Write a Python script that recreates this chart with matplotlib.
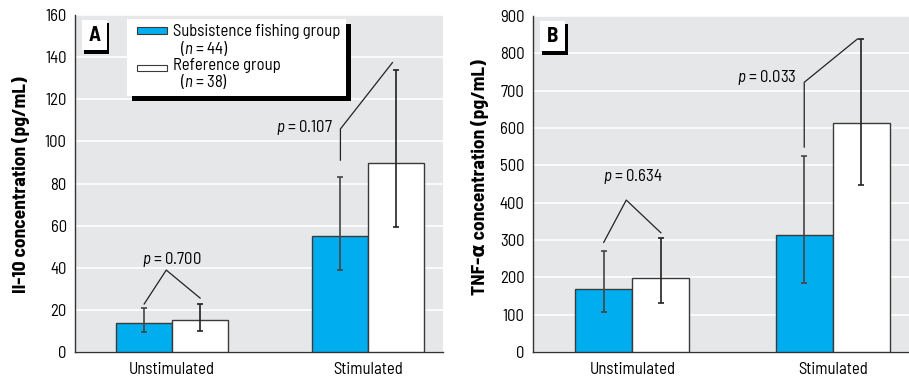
import matplotlib.pyplot as plt
from matplotlib.patches import Rectangle

plt.rcParams['font.family'] = ['Barlow Semi Condensed', 'Archivo Narrow', 'DejaVu Sans']
plt.rcParams['mathtext.fontset'] = 'custom'
plt.rcParams['mathtext.rm'] = 'Barlow Semi Condensed'
plt.rcParams['mathtext.it'] = 'Barlow Semi Condensed:italic'

conditions = ["Unstimulated", "Stimulated"]

# Il-10 (pg/mL): bar value, lower and upper end of the error bar
il10_fishing = [13.6, 55.1]
il10_fishing_lo = [9.3, 38.9]
il10_fishing_hi = [20.7, 83.1]
il10_reference = [15.2, 89.6]
il10_reference_lo = [10.0, 59.4]
il10_reference_hi = [22.6, 133.8]
il10_pvalues = ["0.700", "0.107"]

# TNF-alpha (pg/mL)
tnf_fishing = [168.8, 313.4]
tnf_fishing_lo = [106.3, 185.7]
tnf_fishing_hi = [269.7, 525.0]
tnf_reference = [199.0, 612.6]
tnf_reference_lo = [130.4, 447.4]
tnf_reference_hi = [305.4, 838.4]
tnf_pvalues = ["0.634", "0.033"]

BLUE = "#00aeef"
BG = "#e6e7e8"
EDGE = "#3a3a3a"
W = 0.285
FS = 12


def draw_panel(ax, letter, fish, fish_lo, fish_hi, ref, ref_lo, ref_hi,
               pvals, ymax, ystep, ylabel, brk):
    ax.set_facecolor(BG)
    x = range(len(conditions))
    xf = [i - W / 2 for i in x]
    xr = [i + W / 2 for i in x]
    ax.bar(xf, fish, W, color=BLUE, edgecolor=EDGE, linewidth=1, zorder=3)
    ax.bar(xr, ref, W, color="white", edgecolor=EDGE, linewidth=1, zorder=3)
    ax.errorbar(xf, fish, yerr=[[f - l for f, l in zip(fish, fish_lo)],
                                [h - f for f, h in zip(fish, fish_hi)]],
                fmt="none", ecolor="#444444", elinewidth=1.2, capsize=2.5,
                capthick=1.2, zorder=4)
    ax.errorbar(xr, ref, yerr=[[r - l for r, l in zip(ref, ref_lo)],
                               [h - r for r, h in zip(ref, ref_hi)]],
                fmt="none", ecolor="#222222", elinewidth=1.2, capsize=2.5,
                capthick=1.2, zorder=4)

    ax.set_ylim(0, ymax)
    ax.set_yticks(range(0, ymax + 1, ystep))
    ax.set_xticks(list(x))
    ax.set_xticklabels(conditions, fontsize=FS)
    ax.tick_params(length=0, labelsize=FS)
    ax.tick_params(axis="y", pad=6)
    ax.tick_params(axis="x", pad=7)
    ax.grid(axis="y", color="white", linewidth=1.2, zorder=0)
    ax.set_axisbelow(True)
    for s in ["top", "right"]:
        ax.spines[s].set_visible(False)
    for s in ["left", "bottom"]:
        ax.spines[s].set_color("#333333")
        ax.spines[s].set_linewidth(1)
    ax.set_ylabel(ylabel, fontsize=14, fontweight="bold")

    # p-value brackets
    (l_off, r_off, apex, ty), (v_off, vtop, d_off, ty2) = brk
    ax.plot([xf[0], -0.03, xr[0]],
            [fish_hi[0] + l_off, apex, ref_hi[0] + r_off],
            color="#222222", linewidth=0.9, zorder=5)
    ax.text(0, ty, "$\\mathit{p}$ = " + pvals[0], ha="center", va="center",
            fontsize=FS, zorder=6)
    ax.plot([xf[1], xf[1], xr[1] - 0.02],
            [fish_hi[1] + v_off, vtop, ref_hi[1] + d_off],
            color="#222222", linewidth=0.9, zorder=5)
    ax.text(xf[1] - 0.04, ty2, "$\\mathit{p}$ = " + pvals[1], ha="right",
            va="center", fontsize=FS, zorder=6)

    # panel letter box
    ax.add_patch(Rectangle((0.024, 0.885), 0.068, 0.09,
                           transform=ax.transAxes, facecolor="black",
                           zorder=6, clip_on=False))
    ax.add_patch(Rectangle((0.018, 0.895), 0.068, 0.09,
                           transform=ax.transAxes, facecolor="white",
                           zorder=7, clip_on=False))
    ax.text(0.052, 0.94, letter, transform=ax.transAxes, ha="center",
            va="center", fontsize=15, fontweight="bold", zorder=8)


fig = plt.figure(figsize=(9.09, 3.79), dpi=100)
axA = fig.add_axes([0.0825, 0.0712, 0.4048, 0.8892])
axB = fig.add_axes([0.5864, 0.0712, 0.4136, 0.8865])
for ax in (axA, axB):
    ax.set_xlim(-0.495, 1.38)

draw_panel(axA, "A", il10_fishing, il10_fishing_lo, il10_fishing_hi,
           il10_reference, il10_reference_lo, il10_reference_hi,
           il10_pvalues, 160, 20, "Il-10 concentration (pg/mL)",
           ((2.1, 3.0, 38.9, 43.7), (8.0, 105.9, 3.6, 106.5)))
draw_panel(axB, "B", tnf_fishing, tnf_fishing_lo, tnf_fishing_hi,
           tnf_reference, tnf_reference_lo, tnf_reference_hi,
           tnf_pvalues, 900, 100, "TNF-\u03b1 concentration (pg/mL)",
           ((24.0, 14.0, 407.0, 470.0), (24.0, 722.5, 0.0, 735.0)))
axA.yaxis.set_label_coords(-0.122, 0.495)
axB.yaxis.set_label_coords(-0.117, 0.52)

# legend box with black drop shadow
axA.add_patch(Rectangle((0.155, 0.745), 0.595, 0.228,
                        transform=axA.transAxes, facecolor="black",
                        zorder=6))
axA.add_patch(Rectangle((0.141, 0.760), 0.595, 0.228,
                        transform=axA.transAxes, facecolor="white",
                        zorder=7))
axA.add_patch(Rectangle((0.168, 0.944), 0.082, 0.019,
                        transform=axA.transAxes, facecolor=BLUE,
                        edgecolor=EDGE, linewidth=0.8, zorder=8))
axA.add_patch(Rectangle((0.168, 0.834), 0.082, 0.019,
                        transform=axA.transAxes, facecolor="white",
                        edgecolor=EDGE, linewidth=0.8, zorder=8))
legend_lines = [(0.266, 0.950, "Subsistence fishing group"),
                (0.285, 0.900, "($\\mathit{n}$ = 44)"),
                (0.266, 0.850, "Reference group"),
                (0.285, 0.802, "($\\mathit{n}$ = 38)")]
for lx, ly, txt in legend_lines:
    axA.text(lx, ly, txt, transform=axA.transAxes, ha="left", va="center",
             fontsize=FS, zorder=9)

fig.savefig("out.png", dpi=100)
